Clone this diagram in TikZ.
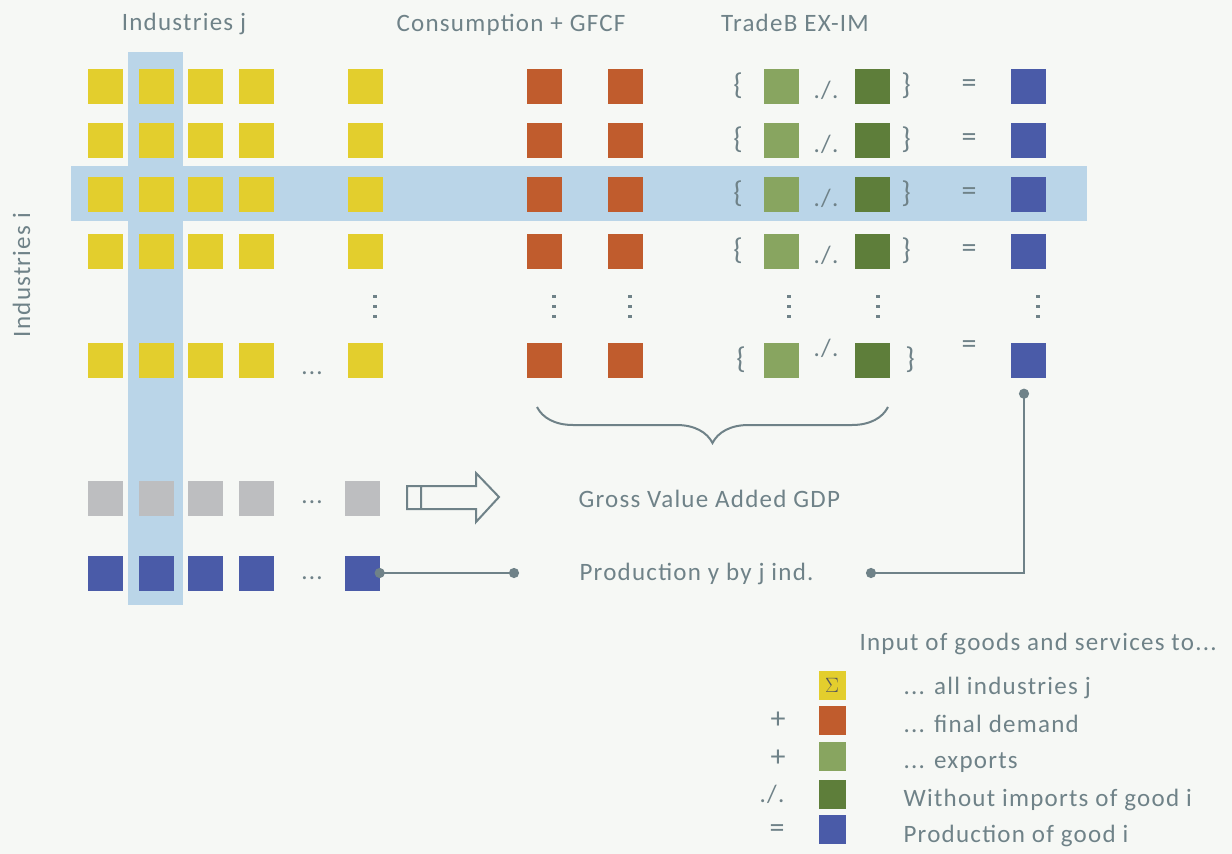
\documentclass[tikz,border=0pt]{standalone}
\usepackage{fontspec}
\setmainfont[LetterSpace=5]{Carlito}
\usepackage{xcolor}
\usetikzlibrary{arrows.meta,decorations.pathreplacing}

\definecolor{bgcol}{RGB}{246,248,245}
\definecolor{txtcol}{RGB}{111,130,136}
\definecolor{hlcol}{RGB}{186,213,232}
\definecolor{indcol}{RGB}{227,206,45}
\definecolor{fdcol}{RGB}{192,92,45}
\definecolor{excol}{RGB}{136,165,96}
\definecolor{imcol}{RGB}{94,126,58}
\definecolor{prcol}{RGB}{74,91,168}
\definecolor{vacol}{RGB}{189,190,192}

\begin{document}
\begin{tikzpicture}[
        x=1pt, y=-1pt,
        every node/.style={text=txtcol, font=\fontsize{25}{29}\selectfont},
        sq/.style={rectangle, minimum size=35pt, inner sep=0pt},
        lsq/.style={rectangle, minimum width=27pt, minimum height=29pt, inner sep=0pt},
        sym/.style={font=\fontsize{30}{32}\selectfont},
        conn/.style={draw=txtcol, line width=2.6pt, {Circle[length=10pt]}-{Circle[length=10pt]}, shorten <=-5pt, shorten >=-5pt}
    ]
        % Background and highlights
        \fill[bgcol] (0,0) rectangle (1232,854);
        \fill[hlcol] (128,52) rectangle (183,605);
        \fill[hlcol] (71,166) rectangle (1087,221);

        % Headers
        \node[anchor=base] (hindj) at (184,30) {Industries j};
        \node[anchor=base] (hcons) at (511,31) {Consumption + GFCF};
        \node[anchor=base] (htrade) at (795,31) {TradeB EX-IM};
        \node[rotate=90, anchor=base] (hindi) at (30,275) {Industries i};

        % Matrix rows
        \foreach \r/\yy in {1/86,2/140,3/194,4/251,6/360} {
            \foreach \c/\xx in {1/105,2/156,3/205,4/256,5/365}
                \node[sq, fill=indcol] (y\r\c) at (\xx,\yy) {};
            \node[sq, fill=fdcol] (c\r1) at (544,\yy) {};
            \node[sq, fill=fdcol] (c\r2) at (625,\yy) {};
            \node[sq, fill=excol] (ex\r) at (781,\yy) {};
            \node[sq, fill=imcol] (im\r) at (872,\yy) {};
            \node[sq, fill=prcol] (p\r) at (1028,\yy) {};
        }
        \foreach \r/\yy in {1/86,2/140,3/194,4/251} {
            \node[sym] (bl\r) at (738,\yy) {\{};
            \node[anchor=base] (mi\r) at (826,\yy+12) {./.};
            \node[sym] (br\r) at (906,\yy) {\}};
            \node[sym] (eq\r) at (969,\yy) {=};
        }
        \node[sym] (bl6) at (741,360) {\{};
        \node[anchor=base] (mi6) at (826,356) {./.};
        \node[sym] (br6) at (910,360) {\}};
        \node[sym] (eq6) at (969,347) {=};

        % Vertical dots
        \foreach \xx in {375,554,630,789,878,1038}
            \foreach \dy in {296,306,316}
                \fill[txtcol] (\xx-2,\dy-1.5) rectangle (\xx+2,\dy+1.5);
        \node[anchor=base] (hd6) at (312,374) {...};

        % Value added and production rows
        \foreach \c/\xx in {1/105,2/156,3/205,4/256,5/362} {
            \node[sq, fill=vacol] (va\c) at (\xx,498) {};
            \node[sq, fill=prcol] (b\c) at (\xx,573) {};
        }
        \node[anchor=base] (hdva) at (312,503) {...};
        \node[anchor=base] (hdb) at (312,579) {...};

        % Hollow arrow
        \draw[txtcol, line width=2pt, line join=miter]
            (407,486) -- (476,486) -- (476,473) -- (499,497) -- (476,522) -- (476,509) -- (407,509) -- cycle
            (421,486) -- (421,509);

        % Brace under final demand and trade
        \draw[txtcol, line width=2pt, decorate, decoration={brace, mirror, amplitude=36pt}]
            (537,407) -- (888,407);

        \node[anchor=base west] (gva) at (575,507) {Gross Value Added GDP};
        \node[anchor=base west] (prod) at (576,580) {Production y by j ind.};

        % Connectors
        \coordinate (pl) at (514,573);
        \coordinate (pr) at (871,573);
        \draw[conn] (b5.east) -- (pl);
        \draw[conn] (pr) -| ([xshift=-4pt, yshift=-16pt]p6.south);

        % Legend
        \node[anchor=base west] (lhead) at (856,650) {Input of goods and services to...};
        \node[lsq, fill=indcol] (l1) at (832,685) {\fontsize{22}{24}\selectfont\color{black!65}$\Sigma$};
        \node[lsq, fill=fdcol] (l2) at (832,720) {};
        \node[lsq, fill=excol] (l3) at (832,756) {};
        \node[lsq, fill=imcol] (l4) at (832,794) {};
        \node[lsq, fill=prcol] (l5) at (832,829) {};
        \node[sym] (s2) at (778,720) {+};
        \node[sym] (s3) at (778,758) {+};
        \node (s4) at (772,794) {./.};
        \node[sym] (s5) at (777,831) {=};
        \node[anchor=base west] (t1) at (900,694) {... all industries j};
        \node[anchor=base west] (t2) at (900,732) {... final demand};
        \node[anchor=base west] (t3) at (900,768) {... exports};
        \node[anchor=base west] (t4) at (900,806) {Without imports of good i};
        \node[anchor=base west] (t5) at (900,842) {Production of good i};
    \end{tikzpicture}
\end{document}
